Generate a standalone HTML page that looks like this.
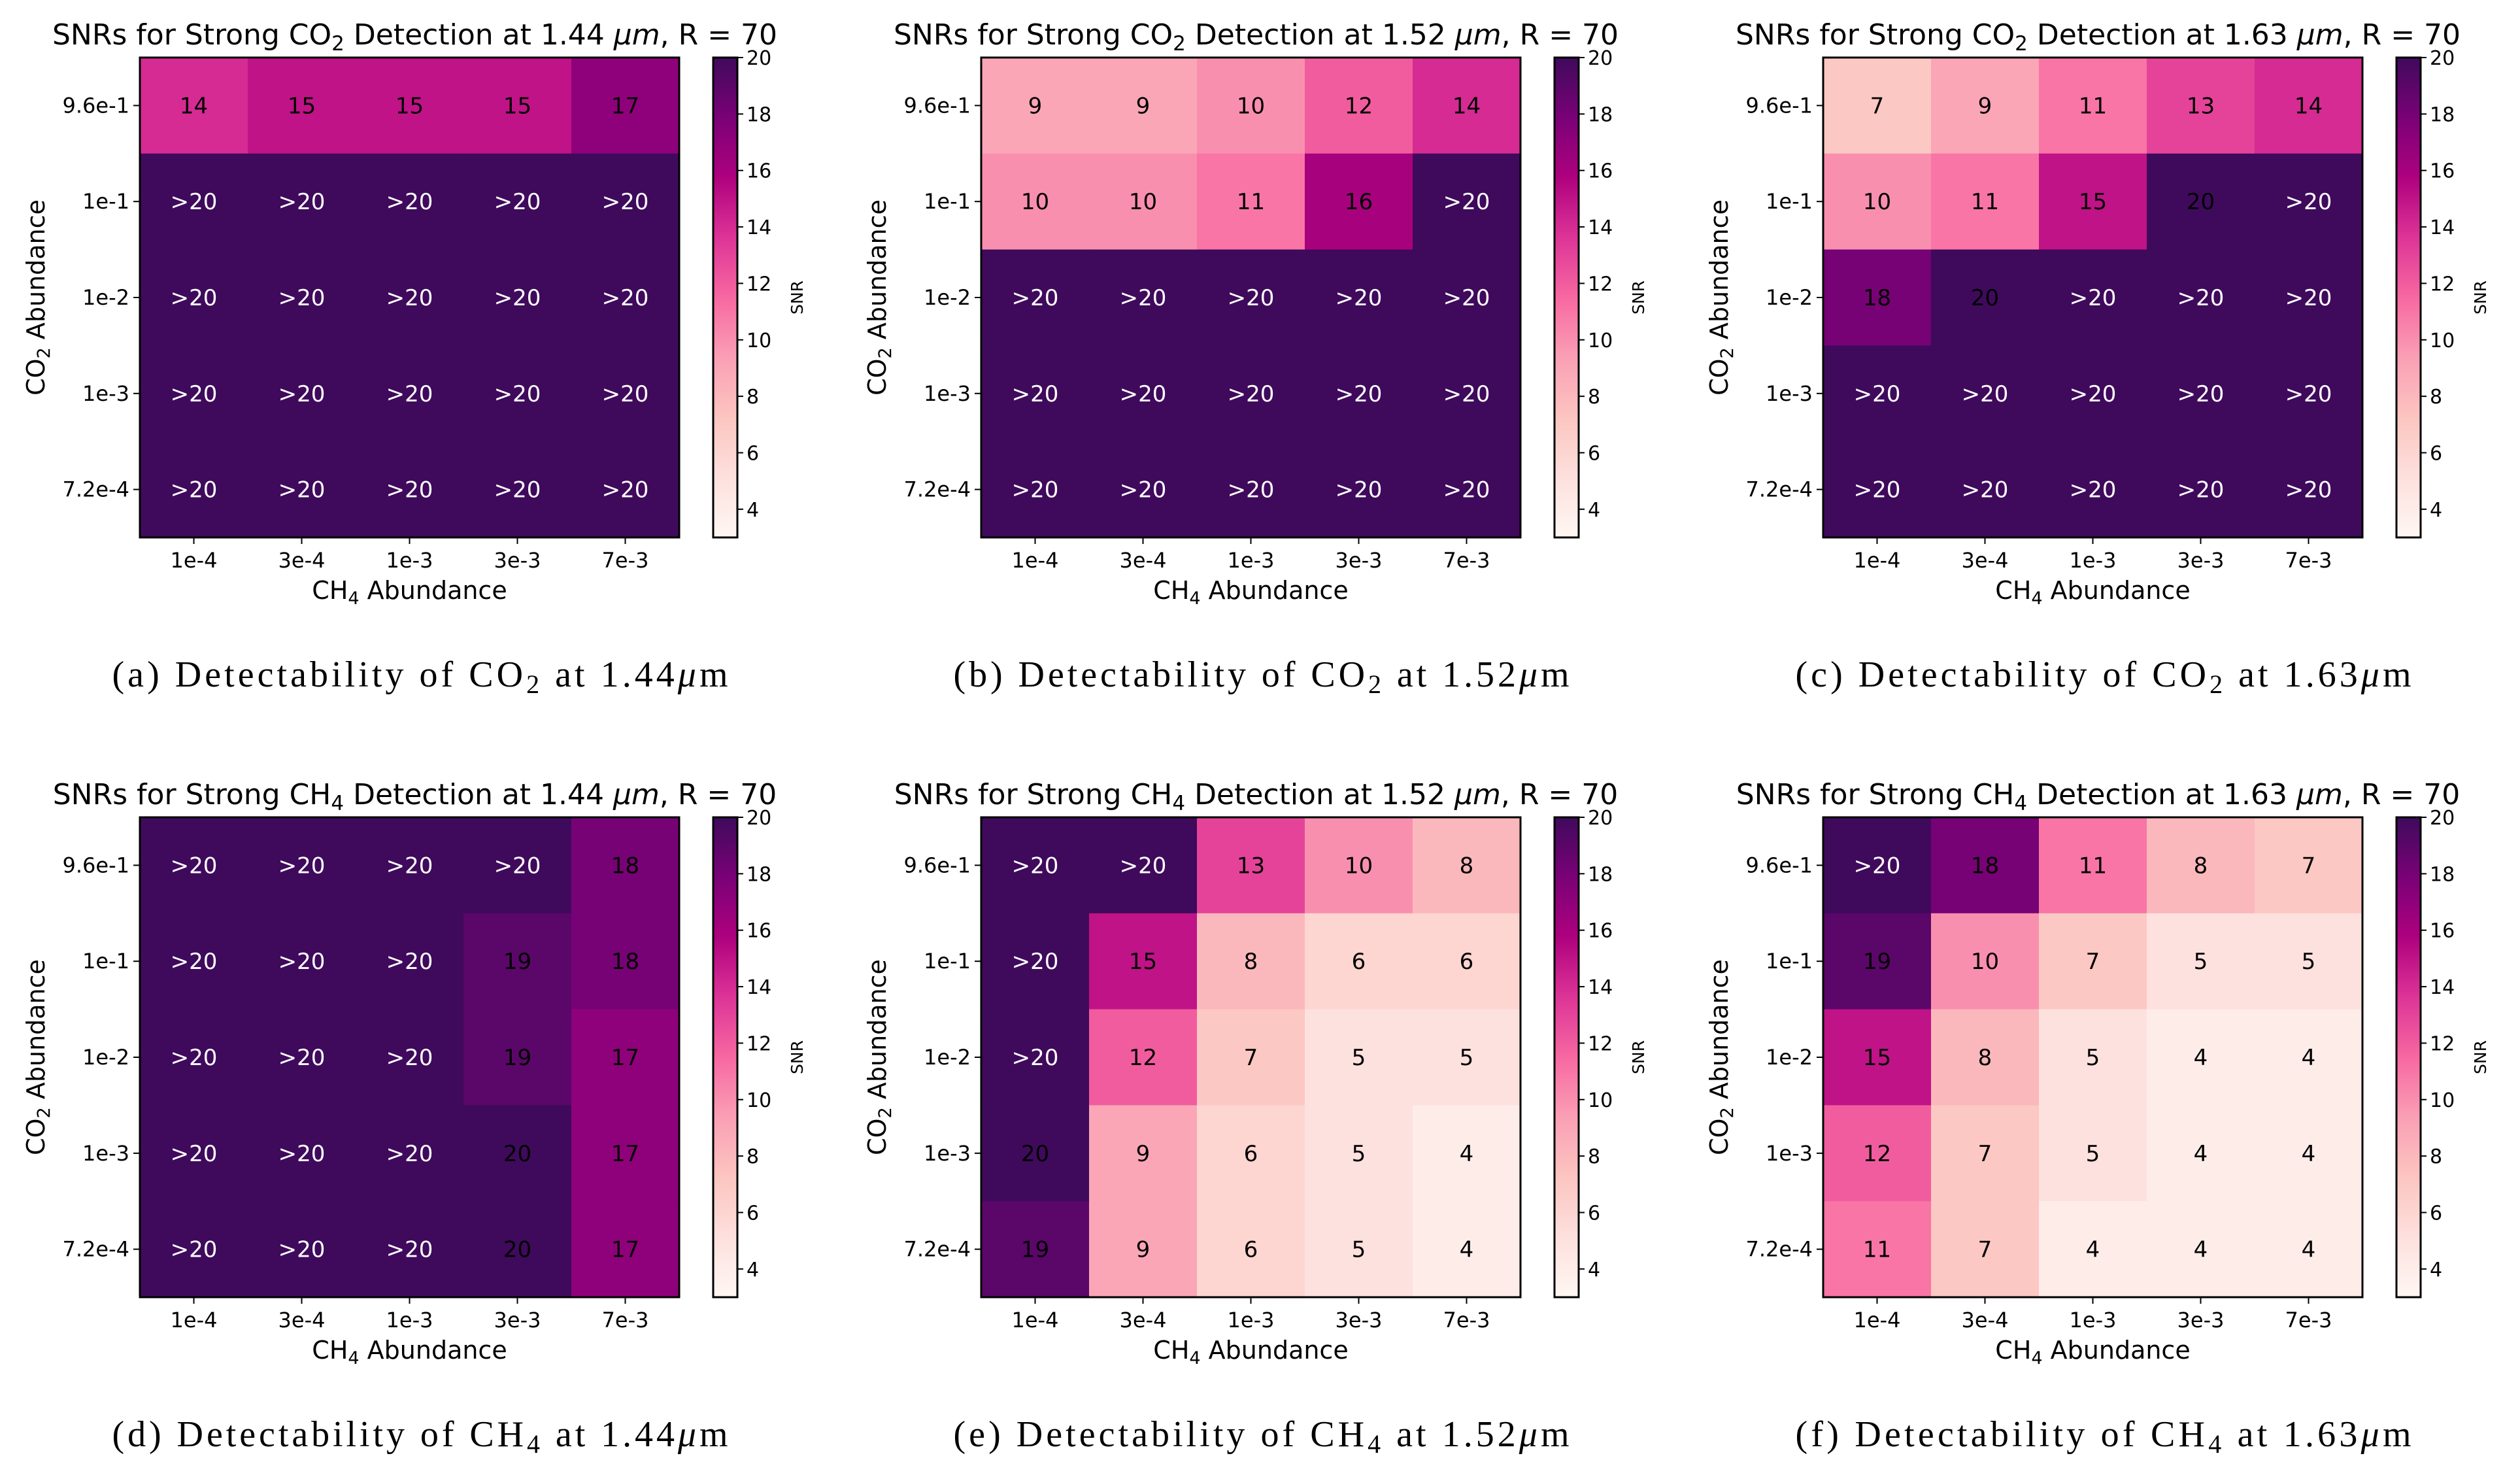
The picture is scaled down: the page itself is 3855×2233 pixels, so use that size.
<!DOCTYPE html>
<html><head><meta charset="utf-8"><style>
html,body{margin:0;padding:0;background:#fff;}
svg text{font-family:"DejaVu Sans","Liberation Sans",sans-serif;}
.cap{font-family:"Liberation Serif","DejaVu Serif",serif;}
</style></head><body>
<svg id="fig" width="3855" height="2228" viewBox="0 0 3855 2228" xmlns="http://www.w3.org/2000/svg"></svg>
<script>
const xCategories = ["1e-4","3e-4","1e-3","3e-3","7e-3"];
const yCategories = ["9.6e-1","1e-1","1e-2","1e-3","7.2e-4"];
const cbarTicks = [4,6,8,10,12,14,16,18,20];
// 21 means ">20"
const snrA = [[14,15,15,15,17],[21,21,21,21,21],[21,21,21,21,21],[21,21,21,21,21],[21,21,21,21,21]];
const snrB = [[9,9,10,12,14],[10,10,11,16,21],[21,21,21,21,21],[21,21,21,21,21],[21,21,21,21,21]];
const snrC = [[7,9,11,13,14],[10,11,15,20,21],[18,20,21,21,21],[21,21,21,21,21],[21,21,21,21,21]];
const snrD = [[21,21,21,21,18],[21,21,21,19,18],[21,21,21,19,17],[21,21,21,20,17],[21,21,21,20,17]];
const snrE = [[21,21,13,10,8],[21,15,8,6,6],[21,12,7,5,5],[20,9,6,5,4],[19,9,6,5,4]];
const snrF = [[21,18,11,8,7],[19,10,7,5,5],[15,8,5,4,4],[12,7,5,4,4],[11,7,4,4,4]];
const panels = [
 {id:"a",gas:"CO",sub:"2",wl:"1.44",data:snrA},
 {id:"b",gas:"CO",sub:"2",wl:"1.52",data:snrB},
 {id:"c",gas:"CO",sub:"2",wl:"1.63",data:snrC},
 {id:"d",gas:"CH",sub:"4",wl:"1.44",data:snrD},
 {id:"e",gas:"CH",sub:"4",wl:"1.52",data:snrE},
 {id:"f",gas:"CH",sub:"4",wl:"1.63",data:snrF}
];
const vmin=3, vmax=20;
const stops=["#fff7f3","#fde0dd","#fcc5c0","#fa9fb5","#f768a1","#dd3497","#ae017e","#7a0177","#3f0a5c"];
function hex(h){return [1,3,5].map(i=>parseInt(h.substr(i,2),16));}
function cmap(v){let t=(Math.min(Math.max(v,vmin),vmax)-vmin)/(vmax-vmin);
 let p=t*(stops.length-1),i=Math.min(Math.floor(p),stops.length-2),f=p-i;
 let a=hex(stops[i]),b=hex(stops[i+1]);
 return "rgb("+a.map((x,k)=>Math.round(x+(b[k]-x)*f)).join(",")+")";}
const NS="http://www.w3.org/2000/svg";
const svg=document.getElementById("fig");
function mk(tag,attrs,parent,text){const e=document.createElementNS(NS,tag);for(const k in attrs)e.setAttribute(k,attrs[k]);if(text!==undefined)e.textContent=text;(parent||svg).appendChild(e);return e;}
const W=825,H=734,colX=[214,1501,2789],rowY=[88,1250];
panels.forEach((p,pi)=>{
 const x0=colX[pi%3], y0=rowY[Math.floor(pi/3)];
 const g=mk("g",{});
 
 
 const cw=W/xCategories.length, ch=H/yCategories.length;
 const xs=i=>x0+cw*i, ys=j=>y0+ch*j;
 p.data.forEach((row,j)=>row.forEach((v,i)=>{
  const r=mk("rect",{x:xs(i),y:ys(j),width:cw+0.5,height:ch+0.5,fill:cmap(v)},g);
  
  
  const t=mk("text",{x:xs(i)+cw/2,y:ys(j)+ch/2+12,"text-anchor":"middle","font-size":34,fill:v>20?"#fff":"#000"},g,v>20?">20":String(v));
  
  
 }));
 mk("rect",{x:x0,y:y0,width:W,height:H,fill:"none",stroke:"#000","stroke-width":3},g);
 xCategories.forEach((c,i)=>{const cx=xs(i)+cw/2;
  mk("line",{x1:cx,y1:y0+H,x2:cx,y2:y0+H+10,stroke:"#000","stroke-width":2},g);
  const t=mk("text",{x:cx,y:y0+H+46,"text-anchor":"middle","font-size":32},g,c);
  
  });
 yCategories.forEach((c,j)=>{const cy=ys(j)+ch/2;
  mk("line",{x1:x0-10,y1:cy,x2:x0,y2:cy,stroke:"#000","stroke-width":2},g);
  const t=mk("text",{x:x0-16,y:cy+11,"text-anchor":"end","font-size":32},g,c);
  
  });
 const xl=mk("text",{x:x0+W/2,y:y0+H+94,"text-anchor":"middle","font-size":38},g);
 
 
 mk("tspan",{},xl,"CH");mk("tspan",{"font-size":27,dy:8},xl,"4");mk("tspan",{dy:-8},xl," Abundance");
 const yl=mk("text",{transform:"translate("+(x0-146)+","+(y0+H/2)+") rotate(-90)","text-anchor":"middle","font-size":38},g);
 
 
 mk("tspan",{},yl,"CO");mk("tspan",{"font-size":27,dy:8},yl,"2");mk("tspan",{dy:-8},yl," Abundance");
 const tt=mk("text",{x:x0+W/2+8,y:y0-20,"text-anchor":"middle","font-size":44},g);
 
 
 mk("tspan",{},tt,"SNRs for Strong "+p.gas);mk("tspan",{"font-size":31,dy:9},tt,p.sub);
 mk("tspan",{dy:-9},tt," Detection at "+p.wl+" ");mk("tspan",{"font-style":"italic"},tt,"μm");mk("tspan",{},tt,", R = 70");
 const bx=x0+W+52,bw=37;
 const gid="grad"+p.id;
 const defs=mk("defs",{},g);const lg=mk("linearGradient",{id:gid,x1:0,y1:1,x2:0,y2:0},defs);
 stops.forEach((s,k)=>mk("stop",{offset:k/(stops.length-1),"stop-color":s},lg));
 const cb=mk("rect",{x:bx,y:y0,width:bw,height:H,fill:"url(#"+gid+")",stroke:"#000","stroke-width":3},g);
 
 
 const cy=v=>y0+H-(v-vmin)/(vmax-vmin)*H;
 cbarTicks.forEach(v=>{
  mk("line",{x1:bx+bw,y1:cy(v),x2:bx+bw+9,y2:cy(v),stroke:"#000","stroke-width":2},g);
  const t=mk("text",{x:bx+bw+14,y:cy(v)+11,"font-size":30},g,String(v));
  
  });
 const sl=mk("text",{transform:"translate("+(bx+bw+100)+","+(y0+H/2)+") rotate(-90)","text-anchor":"middle","font-size":25},g,"SNR");
 
 
 const cp=mk("text",{x:x0+W/2+16,y:y0+H+228,"text-anchor":"middle","font-size":56,class:"cap",textLength:942,lengthAdjust:"spacing"},g);
 
 
 mk("tspan",{},cp,"("+p.id+") Detectability of "+p.gas);mk("tspan",{"font-size":40,dy:10},cp,p.sub);
 mk("tspan",{dy:-10},cp," at "+p.wl);mk("tspan",{"font-style":"italic"},cp,"μ");mk("tspan",{},cp,"m");
});
</script>
</body></html>
